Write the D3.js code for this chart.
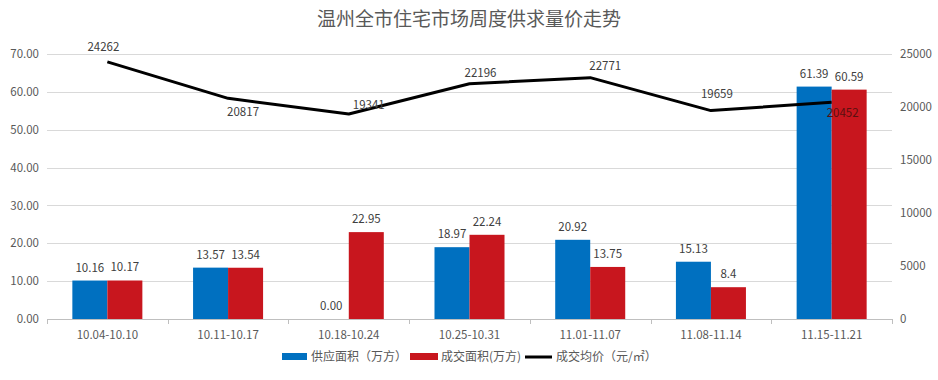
<!DOCTYPE html>
<html><head><meta charset="utf-8">
<script src="https://cdn.jsdelivr.net/npm/d3@7"></script>
<style>
body{margin:0;background:#fff;}
text{font-family:"Microsoft YaHei","Noto Sans CJK SC","DejaVu Sans",sans-serif;}
</style></head>
<body><svg id="c" width="938" height="380"></svg>
<script>
const categories = ["10.04-10.10","10.11-10.17","10.18-10.24","10.25-10.31","11.01-11.07","11.08-11.14","11.15-11.21"];
const supplyArea = [10.16, 13.57, 0.00, 18.97, 20.92, 15.13, 61.39];
const supplyLabels = ["10.16","13.57","0.00","18.97","20.92","15.13","61.39"];
const dealArea = [10.17, 13.54, 22.95, 22.24, 13.75, 8.4, 60.59];
const dealLabels = ["10.17","13.54","22.95","22.24","13.75","8.4","60.59"];
const avgPrice = [24262, 20817, 19341, 22196, 22771, 19659, 20452];
const leftTicks = [0,10,20,30,40,50,60,70];
const rightTicks = [0,5000,10000,15000,20000,25000];
const seriesNames = ["供应面积（万方）","成交面积(万方)","成交均价（元/㎡）"];
const title = "温州全市住宅市场周度供求量价走势";

(function(){
const svg = d3.select("#c");
const pL = 47, pR = 892, pT = 54, pB = 319;
const blue = "#0070C0", red = "#C8161E", gray = "#595959";
// label offsets for price labels (layout only)
const lblDx = [-4, 15, 20, 11, 15, 6, 11];
const lblDy = [-11, 18, -5, -7, -8, -13, 15];

svg.append("text").attr("x", 469).attr("y", 26).attr("text-anchor","middle")
  .attr("font-size", 19).attr("fill", gray).text(title);

const x = d3.scaleBand().domain(categories).range([pL, pR]).paddingInner(0.42).paddingOuter(0.21);
const yL = d3.scaleLinear().domain([0,70]).range([pB, pT]);
const yR = d3.scaleLinear().domain([0,25000]).range([pB, pT]);

svg.append("g").selectAll("line").data(leftTicks.slice(1)).join("line")
  .attr("x1", pL).attr("x2", pR).attr("y1", d=>Math.round(yL(d))+0.5).attr("y2", d=>Math.round(yL(d))+0.5)
  .attr("stroke", "#d9d9d9").attr("stroke-width", 1);

const numFont = "'Open Sans','DejaVu Sans',sans-serif";
const gl = svg.append("g").attr("transform", `translate(${pL},0)`)
  .call(d3.axisLeft(yL).tickValues(leftTicks).tickFormat(d3.format(".2f")).tickSize(0).tickPadding(8));
gl.select(".domain").remove();
gl.selectAll("text").attr("font-size", 11.5).attr("fill", gray).attr("font-family", numFont);

const gr = svg.append("g").attr("transform", `translate(${pR},0)`)
  .call(d3.axisRight(yR).tickValues(rightTicks).tickFormat(d3.format("d")).tickSize(0).tickPadding(8));
gr.select(".domain").remove();
gr.selectAll("text").attr("font-size", 11.5).attr("fill", gray).attr("font-family", numFont);

const gx = svg.append("g").attr("transform", `translate(0,${pB})`);
gx.append("line").attr("x1", pL).attr("x2", pR).attr("y1", 0.5).attr("y2", 0.5).attr("stroke", "#bfbfbf");
const tickXs = d3.range(categories.length+1).map(i => pL + i*(pR-pL)/categories.length);
gx.selectAll("line.t").data(tickXs).join("line").attr("class","t")
  .attr("x1", d=>Math.round(d)+0.5).attr("x2", d=>Math.round(d)+0.5).attr("y1", 0).attr("y2", 5).attr("stroke", "#bfbfbf");
gx.selectAll("text").data(categories).join("text")
  .attr("x", d=>x(d)+x.bandwidth()/2).attr("y", 20).attr("text-anchor","middle")
  .attr("font-size", 11.5).attr("fill", gray).attr("font-family", numFont).text(d=>d);

const sub = d3.scaleBand().domain([0,1]).range([0, x.bandwidth()]);
const data = categories.map((c,i)=>({c, s:supplyArea[i], d:dealArea[i], sl:supplyLabels[i], dl:dealLabels[i]}));

svg.append("g").selectAll("rect").data(data).join("rect")
  .attr("x", d=>x(d.c)).attr("width", sub.bandwidth())
  .attr("y", d=>yL(d.s)).attr("height", d=>pB - yL(d.s)).attr("fill", blue);
svg.append("g").selectAll("rect").data(data).join("rect")
  .attr("x", d=>x(d.c)+sub(1)).attr("width", sub.bandwidth())
  .attr("y", d=>yL(d.d)).attr("height", d=>pB - yL(d.d)).attr("fill", red);

svg.append("g").selectAll("text").data(data).join("text")
  .attr("x", d=>x(d.c)+sub.bandwidth()/2).attr("y", d=>yL(d.s)-9).attr("text-anchor","middle")
  .attr("font-size", 11.5).attr("fill", "#404040").attr("font-family", numFont).text(d=>d.sl);
svg.append("g").selectAll("text").data(data).join("text")
  .attr("x", d=>x(d.c)+sub(1)+sub.bandwidth()/2).attr("y", d=>yL(d.d)-9).attr("text-anchor","middle")
  .attr("font-size", 11.5).attr("fill", "#404040").attr("font-family", numFont).text(d=>d.dl);

const cx = c => x(c)+x.bandwidth()/2;
const line = d3.line().x((d,i)=>cx(categories[i])).y(d=>yR(d));
svg.append("path").datum(avgPrice).attr("d", line).attr("fill","none")
  .attr("stroke","#000").attr("stroke-width", 3).attr("stroke-linejoin","round");

svg.append("g").selectAll("text").data(avgPrice).join("text")
  .attr("x", (d,i)=>cx(categories[i]) + lblDx[i])
  .attr("y", (d,i)=>yR(d) + lblDy[i])
  .attr("text-anchor","middle")
  .attr("font-size", 11.5).attr("fill", (d,i)=>i===6?"#5a1010":"#404040").attr("font-family", numFont)
  .text(d=>d);

const lg = svg.append("g").attr("font-size", 12);
lg.append("rect").attr("x", 282).attr("y", 353).attr("width", 25).attr("height", 7).attr("fill", blue);
lg.append("text").attr("x", 311).attr("y", 361).attr("fill", gray).text(seriesNames[0]);
lg.append("rect").attr("x", 410).attr("y", 353).attr("width", 28).attr("height", 7).attr("fill", red);
lg.append("text").attr("x", 441).attr("y", 361).attr("fill", gray).text(seriesNames[1]);
lg.append("line").attr("x1", 525).attr("x2", 552).attr("y1", 357).attr("y2", 357).attr("stroke","#000").attr("stroke-width",3);
lg.append("text").attr("x", 556).attr("y", 361).attr("fill", gray).text(seriesNames[2]);
})();
</script></body></html>
